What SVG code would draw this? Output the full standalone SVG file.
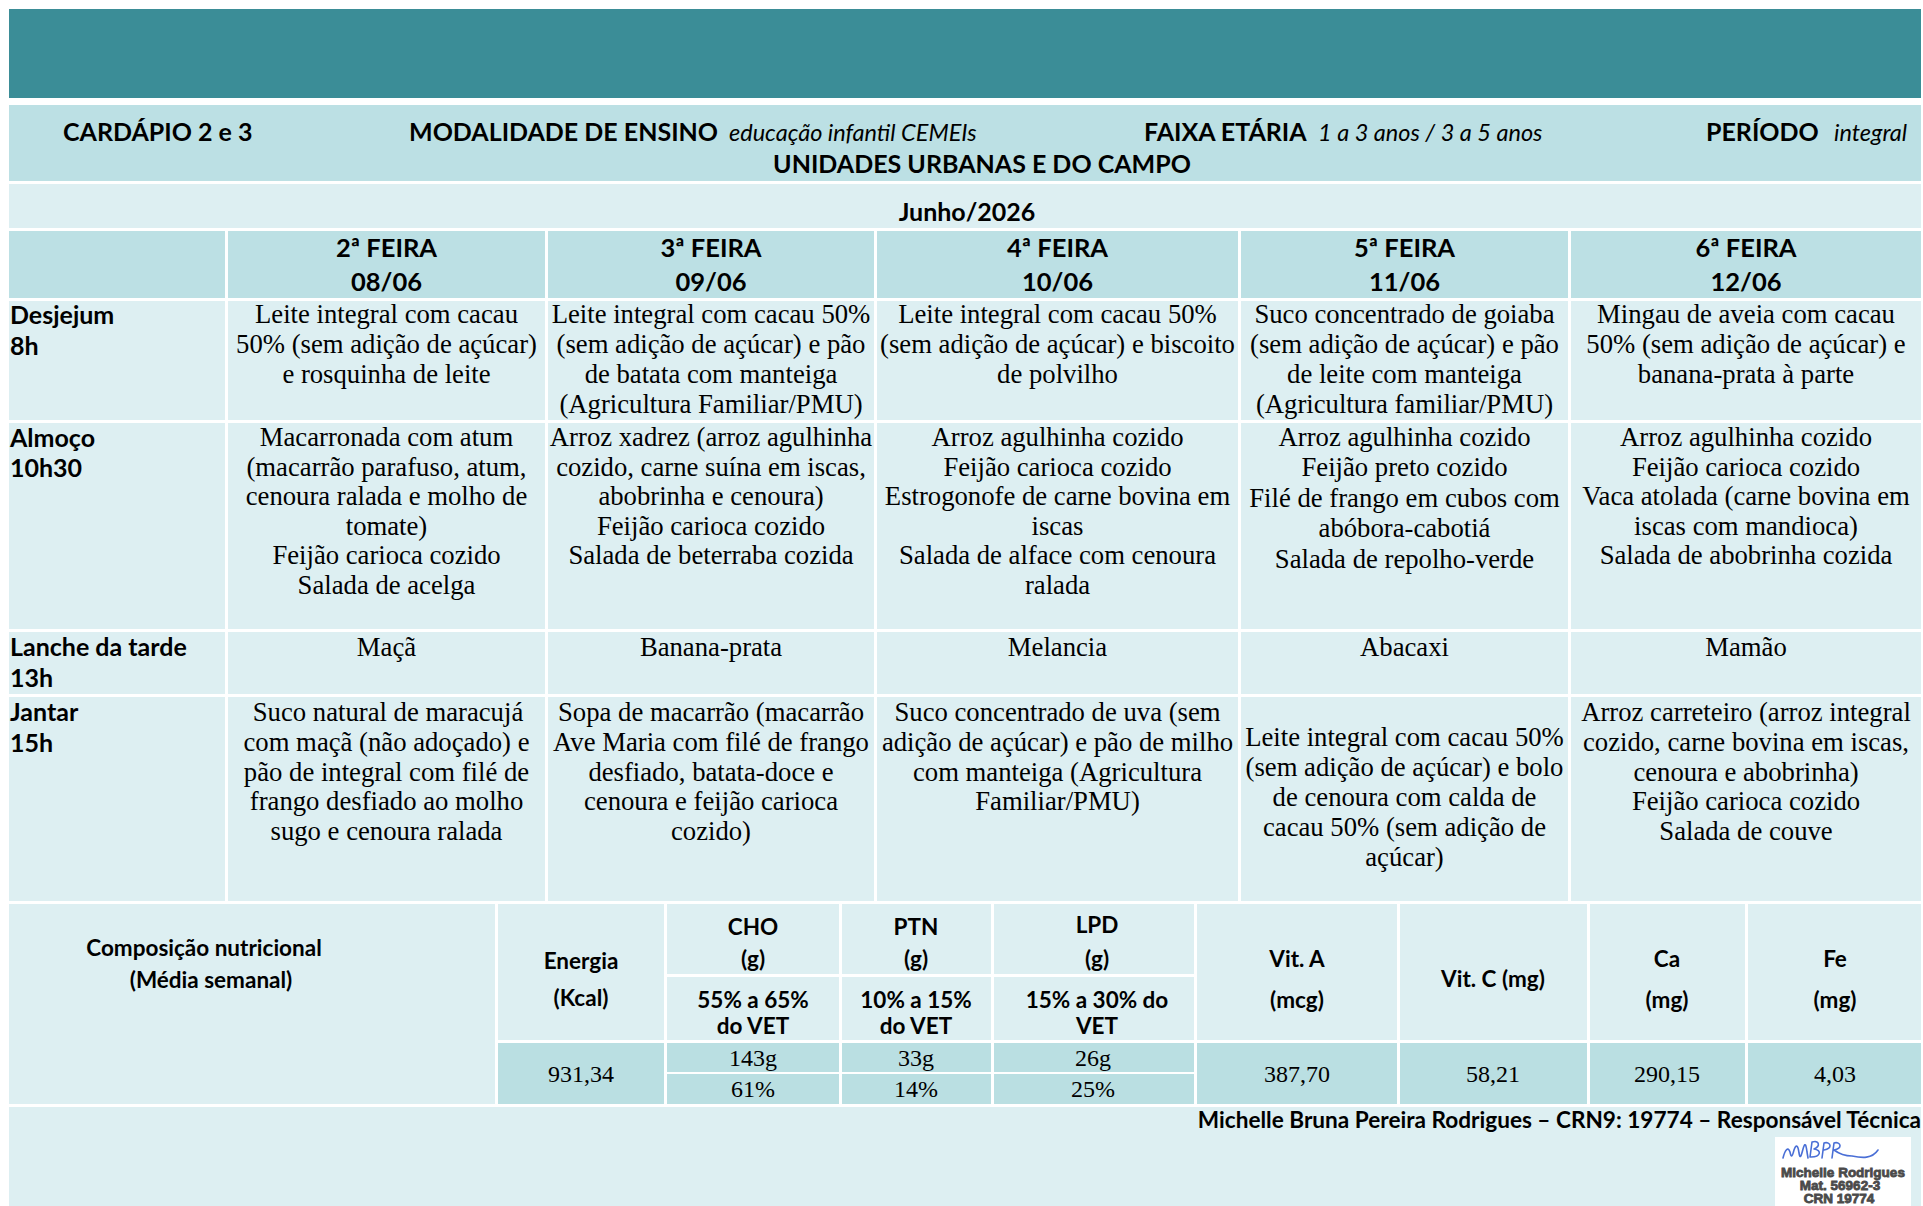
<svg xmlns="http://www.w3.org/2000/svg" width="1923" height="1206" viewBox="0 0 1923 1206">
<style>
.teal{fill:#3B8D97}
.hd{fill:#BCE0E4}
.lt{fill:#DDEFF2}
.vl{fill:#BADFE2}
.b{font-family:"Liberation Serif","Times New Roman",serif;font-size:26.7px;fill:#000;text-anchor:middle}
.v{font-family:"Liberation Serif","Times New Roman",serif;font-size:24px;fill:#000;text-anchor:middle}
.lb{font-family:Lato,"Liberation Sans",sans-serif;font-weight:700;font-size:25px;fill:#000}
.hb{font-family:Lato,"Liberation Sans",sans-serif;font-weight:700;font-size:25px;fill:#000}
.hi{font-family:Lato,"Liberation Sans",sans-serif;font-style:italic;font-weight:400;font-size:23.5px;fill:#000}
.dh{font-family:Lato,"Liberation Sans",sans-serif;font-weight:700;font-size:25.5px;fill:#000;text-anchor:middle}
.nh{font-family:Lato,"Liberation Sans",sans-serif;font-weight:700;font-size:22.5px;fill:#000;text-anchor:middle}
.ft{font-family:Lato,"Liberation Sans",sans-serif;font-weight:700;font-size:22.6px;fill:#000;text-anchor:end}
.sg{font-family:"Liberation Sans",Arial,sans-serif;font-weight:700;font-size:13.5px;fill:#4a4a4a;stroke:#4a4a4a;stroke-width:0.8;text-anchor:middle}
</style>
<rect x="0" y="0" width="1923" height="1206" fill="#ffffff"/>

<g id="banner"><rect class="teal" x="9" y="9" width="1912" height="89"/></g>

<g id="header">
<rect class="hd" x="9" y="105" width="1912" height="76"/>
<text class="hb" x="63" y="141">CARDÁPIO 2 e 3</text>
<text class="hb" x="409" y="141">MODALIDADE DE ENSINO</text>
<text class="hi" x="729" y="141">educação infantil CEMEIs</text>
<text class="hb" x="1144" y="141">FAIXA ETÁRIA</text>
<text class="hi" x="1318" y="141">1 a 3 anos / 3 a 5 anos</text>
<text class="hb" x="1706" y="141">PERÍODO</text>
<text class="hi" x="1834" y="141">integral</text>
<text class="hb" x="982" y="173" text-anchor="middle">UNIDADES URBANAS E DO CAMPO</text>
</g>

<g id="month">
<rect class="lt" x="9" y="184" width="1912" height="44"/>
<text class="hb" x="967" y="221" text-anchor="middle" font-size="26.5px">Junho/2026</text>
</g>

<g id="day-header">
<rect class="hd" x="9" y="231" width="216" height="67"/>
<rect class="hd" x="228" y="231" width="317" height="67"/>
<rect class="hd" x="548" y="231" width="326" height="67"/>
<rect class="hd" x="877" y="231" width="361" height="67"/>
<rect class="hd" x="1241" y="231" width="327" height="67"/>
<rect class="hd" x="1571" y="231" width="350" height="67"/>
<text class="dh" x="386.5" y="257">2ª FEIRA</text><text class="dh" x="386.5" y="291">08/06</text>
<text class="dh" x="711" y="257">3ª FEIRA</text><text class="dh" x="711" y="291">09/06</text>
<text class="dh" x="1057.5" y="257">4ª FEIRA</text><text class="dh" x="1057.5" y="291">10/06</text>
<text class="dh" x="1404.5" y="257">5ª FEIRA</text><text class="dh" x="1404.5" y="291">11/06</text>
<text class="dh" x="1746" y="257">6ª FEIRA</text><text class="dh" x="1746" y="291">12/06</text>
</g>

<g id="row-desjejum">
<rect class="lt" x="9" y="301" width="216" height="119"/>
<rect class="lt" x="228" y="301" width="317" height="119"/>
<rect class="lt" x="548" y="301" width="326" height="119"/>
<rect class="lt" x="877" y="301" width="361" height="119"/>
<rect class="lt" x="1241" y="301" width="327" height="119"/>
<rect class="lt" x="1571" y="301" width="350" height="119"/>
<text class="lb" x="10" y="324">Desjejum</text><text class="lb" x="10" y="355">8h</text>
<text class="b" x="386.5" y="323">Leite integral com cacau</text>
<text class="b" x="386.5" y="353">50% (sem adição de açúcar)</text>
<text class="b" x="386.5" y="383">e rosquinha de leite</text>
<text class="b" x="711" y="323">Leite integral com cacau 50%</text>
<text class="b" x="711" y="353">(sem adição de açúcar) e pão</text>
<text class="b" x="711" y="383">de batata com manteiga</text>
<text class="b" x="711" y="413">(Agricultura Familiar/PMU)</text>
<text class="b" x="1057.5" y="323">Leite integral com cacau 50%</text>
<text class="b" x="1057.5" y="353">(sem adição de açúcar) e biscoito</text>
<text class="b" x="1057.5" y="383">de polvilho</text>
<text class="b" x="1404.5" y="323">Suco concentrado de goiaba</text>
<text class="b" x="1404.5" y="353">(sem adição de açúcar) e pão</text>
<text class="b" x="1404.5" y="383">de leite com manteiga</text>
<text class="b" x="1404.5" y="413">(Agricultura familiar/PMU)</text>
<text class="b" x="1746" y="323">Mingau de aveia com cacau</text>
<text class="b" x="1746" y="353">50% (sem adição de açúcar) e</text>
<text class="b" x="1746" y="383">banana-prata à parte</text>
</g>

<g id="row-almoco">
<rect class="lt" x="9" y="423" width="216" height="206"/>
<rect class="lt" x="228" y="423" width="317" height="206"/>
<rect class="lt" x="548" y="423" width="326" height="206"/>
<rect class="lt" x="877" y="423" width="361" height="206"/>
<rect class="lt" x="1241" y="423" width="327" height="206"/>
<rect class="lt" x="1571" y="423" width="350" height="206"/>
<text class="lb" x="10" y="447">Almoço</text><text class="lb" x="10" y="477">10h30</text>
<text class="b" x="386.5" y="446">Macarronada com atum</text>
<text class="b" x="386.5" y="475.6">(macarrão parafuso, atum,</text>
<text class="b" x="386.5" y="505.2">cenoura ralada e molho de</text>
<text class="b" x="386.5" y="534.8">tomate)</text>
<text class="b" x="386.5" y="564.4">Feijão carioca cozido</text>
<text class="b" x="386.5" y="594">Salada de acelga</text>
<text class="b" x="711" y="446">Arroz xadrez (arroz agulhinha</text>
<text class="b" x="711" y="475.6">cozido, carne suína em iscas,</text>
<text class="b" x="711" y="505.2">abobrinha e cenoura)</text>
<text class="b" x="711" y="534.8">Feijão carioca cozido</text>
<text class="b" x="711" y="564.4">Salada de beterraba cozida</text>
<text class="b" x="1057.5" y="446">Arroz agulhinha cozido</text>
<text class="b" x="1057.5" y="475.6">Feijão carioca cozido</text>
<text class="b" x="1057.5" y="505.2">Estrogonofe de carne bovina em</text>
<text class="b" x="1057.5" y="534.8">iscas</text>
<text class="b" x="1057.5" y="564.4">Salada de alface com cenoura</text>
<text class="b" x="1057.5" y="594">ralada</text>
<text class="b" x="1404.5" y="446">Arroz agulhinha cozido</text>
<text class="b" x="1404.5" y="476">Feijão preto cozido</text>
<text class="b" x="1404.5" y="506.5">Filé de frango em cubos com</text>
<text class="b" x="1404.5" y="537">abóbora-cabotiá</text>
<text class="b" x="1404.5" y="567.5">Salada de repolho-verde</text>
<text class="b" x="1746" y="446">Arroz agulhinha cozido</text>
<text class="b" x="1746" y="475.6">Feijão carioca cozido</text>
<text class="b" x="1746" y="505.2">Vaca atolada (carne bovina em</text>
<text class="b" x="1746" y="534.8">iscas com mandioca)</text>
<text class="b" x="1746" y="564.4">Salada de abobrinha cozida</text>
</g>

<g id="row-lanche">
<rect class="lt" x="9" y="632" width="216" height="62"/>
<rect class="lt" x="228" y="632" width="317" height="62"/>
<rect class="lt" x="548" y="632" width="326" height="62"/>
<rect class="lt" x="877" y="632" width="361" height="62"/>
<rect class="lt" x="1241" y="632" width="327" height="62"/>
<rect class="lt" x="1571" y="632" width="350" height="62"/>
<text class="lb" x="10" y="656">Lanche da tarde</text><text class="lb" x="10" y="687">13h</text>
<text class="b" x="386.5" y="656">Maçã</text>
<text class="b" x="711" y="656">Banana-prata</text>
<text class="b" x="1057.5" y="656">Melancia</text>
<text class="b" x="1404.5" y="656">Abacaxi</text>
<text class="b" x="1746" y="656">Mamão</text>
</g>

<g id="row-jantar">
<rect class="lt" x="9" y="697" width="216" height="204"/>
<rect class="lt" x="228" y="697" width="317" height="204"/>
<rect class="lt" x="548" y="697" width="326" height="204"/>
<rect class="lt" x="877" y="697" width="361" height="204"/>
<rect class="lt" x="1241" y="697" width="327" height="204"/>
<rect class="lt" x="1571" y="697" width="350" height="204"/>
<text class="lb" x="10" y="721">Jantar</text><text class="lb" x="10" y="752">15h</text>
<text class="b" x="388" y="721">Suco natural de maracujá</text>
<text class="b" x="386.5" y="750.8">com maçã (não adoçado) e</text>
<text class="b" x="386.5" y="780.6">pão de integral com filé de</text>
<text class="b" x="386.5" y="810.4">frango desfiado ao molho</text>
<text class="b" x="386.5" y="840.2">sugo e cenoura ralada</text>
<text class="b" x="711" y="721">Sopa de macarrão (macarrão</text>
<text class="b" x="711" y="750.8">Ave Maria com filé de frango</text>
<text class="b" x="711" y="780.6">desfiado, batata-doce e</text>
<text class="b" x="711" y="810.4">cenoura e feijão carioca</text>
<text class="b" x="711" y="840.2">cozido)</text>
<text class="b" x="1057.5" y="721">Suco concentrado de uva (sem</text>
<text class="b" x="1057.5" y="750.8">adição de açúcar) e pão de milho</text>
<text class="b" x="1057.5" y="780.6">com manteiga (Agricultura</text>
<text class="b" x="1057.5" y="810.4">Familiar/PMU)</text>
<text class="b" x="1404.5" y="746">Leite integral com cacau 50%</text>
<text class="b" x="1404.5" y="776">(sem adição de açúcar) e bolo</text>
<text class="b" x="1404.5" y="806">de cenoura com calda de</text>
<text class="b" x="1404.5" y="836">cacau 50% (sem adição de</text>
<text class="b" x="1404.5" y="866">açúcar)</text>
<text class="b" x="1746" y="721">Arroz carreteiro (arroz integral</text>
<text class="b" x="1746" y="750.8">cozido, carne bovina em iscas,</text>
<text class="b" x="1746" y="780.6">cenoura e abobrinha)</text>
<text class="b" x="1746" y="810.4">Feijão carioca cozido</text>
<text class="b" x="1746" y="840.2">Salada de couve</text>
</g>

<g id="nutrition-label">
<rect class="lt" x="9" y="904" width="486" height="200"/>
<text class="nh" x="204" y="956" font-size="25px">Composição nutricional</text>
<text class="nh" x="211" y="988" font-size="25px">(Média semanal)</text>
</g>
<g id="nutrition-energia">
<rect class="lt" x="498" y="904" width="166" height="136"/>
<rect class="vl" x="498" y="1043" width="166" height="61"/>
<text class="nh" x="581" y="969">Energia</text>
<text class="nh" x="581" y="1006">(Kcal)</text>
<text class="v" x="581" y="1082">931,34</text>
</g>
<g id="nutrition-cho">
<rect class="lt" x="667" y="904" width="172" height="70"/>
<rect class="lt" x="667" y="977" width="172" height="63"/>
<rect class="vl" x="667" y="1043" width="172" height="29"/>
<rect class="vl" x="667" y="1074" width="172" height="30"/>
<text class="nh" x="753" y="935">CHO</text>
<text class="nh" x="753" y="967">(g)</text>
<text class="nh" x="753" y="1008">55% a 65%</text>
<text class="nh" x="753" y="1034">do VET</text>
<text class="v" x="753" y="1066">143g</text>
<text class="v" x="753" y="1097">61%</text>
</g>
<g id="nutrition-ptn">
<rect class="lt" x="842" y="904" width="149" height="70"/>
<rect class="lt" x="842" y="977" width="149" height="63"/>
<rect class="vl" x="842" y="1043" width="149" height="29"/>
<rect class="vl" x="842" y="1074" width="149" height="30"/>
<text class="nh" x="916" y="935">PTN</text>
<text class="nh" x="916" y="967">(g)</text>
<text class="nh" x="916" y="1008">10% a 15%</text>
<text class="nh" x="916" y="1034">do VET</text>
<text class="v" x="916" y="1066">33g</text>
<text class="v" x="916" y="1097">14%</text>
</g>
<g id="nutrition-lpd">
<rect class="lt" x="994" y="904" width="200" height="70"/>
<rect class="lt" x="994" y="977" width="200" height="63"/>
<rect class="vl" x="994" y="1043" width="200" height="29"/>
<rect class="vl" x="994" y="1074" width="200" height="30"/>
<text class="nh" x="1097" y="933">LPD</text>
<text class="nh" x="1097" y="967">(g)</text>
<text class="nh" x="1097" y="1008">15% a 30% do</text>
<text class="nh" x="1097" y="1034">VET</text>
<text class="v" x="1093" y="1066">26g</text>
<text class="v" x="1093" y="1097">25%</text>
</g>
<g id="nutrition-vita">
<rect class="lt" x="1197" y="904" width="200" height="136"/>
<rect class="vl" x="1197" y="1043" width="200" height="61"/>
<text class="nh" x="1297" y="967">Vit. A</text>
<text class="nh" x="1297" y="1008">(mcg)</text>
<text class="v" x="1297" y="1082">387,70</text>
</g>
<g id="nutrition-vitc">
<rect class="lt" x="1400" y="904" width="187" height="136"/>
<rect class="vl" x="1400" y="1043" width="187" height="61"/>
<text class="nh" x="1493" y="987">Vit. C (mg)</text>
<text class="v" x="1493" y="1082">58,21</text>
</g>
<g id="nutrition-ca">
<rect class="lt" x="1590" y="904" width="155" height="136"/>
<rect class="vl" x="1590" y="1043" width="155" height="61"/>
<text class="nh" x="1667" y="967">Ca</text>
<text class="nh" x="1667" y="1008">(mg)</text>
<text class="v" x="1667" y="1082">290,15</text>
</g>
<g id="nutrition-fe">
<rect class="lt" x="1748" y="904" width="173" height="136"/>
<rect class="vl" x="1748" y="1043" width="173" height="61"/>
<text class="nh" x="1835" y="967">Fe</text>
<text class="nh" x="1835" y="1008">(mg)</text>
<text class="v" x="1835" y="1082">4,03</text>
</g>

<g id="footer">
<rect class="lt" x="9" y="1107" width="1912" height="99"/>
<text class="ft" x="1921" y="1128">Michelle Bruna Pereira Rodrigues – CRN9: 19774 – Responsável Técnica</text>
</g>
<g id="signature">
<rect x="1775" y="1137" width="136" height="69" fill="#ffffff"/>
<path d="M1783,1158 C1785,1150 1788,1146 1790,1152 C1791,1157 1792,1158 1794,1150 C1796,1144 1798,1145 1799,1153 C1800,1159 1801,1157 1803,1149 C1805,1142 1806,1144 1807,1152 L1808,1158 M1810,1157 L1812,1142 C1819,1140 1821,1146 1814,1149 C1822,1150 1821,1157 1811,1157 M1822,1158 L1824,1143 C1831,1141 1833,1149 1824,1150 M1832,1158 L1834,1143 C1841,1141 1843,1149 1834,1150 C1838,1153 1844,1156 1852,1156 C1862,1158 1872,1159 1878,1150" fill="none" stroke="#4a6fd6" stroke-width="1.6" stroke-linecap="round" stroke-linejoin="round"/>
<text class="sg" x="1843" y="1177">Michelle Rodrigues</text>
<text class="sg" x="1840" y="1190">Mat. 56962-3</text>
<text class="sg" x="1839" y="1203">CRN 19774</text>
</g>
</svg>
